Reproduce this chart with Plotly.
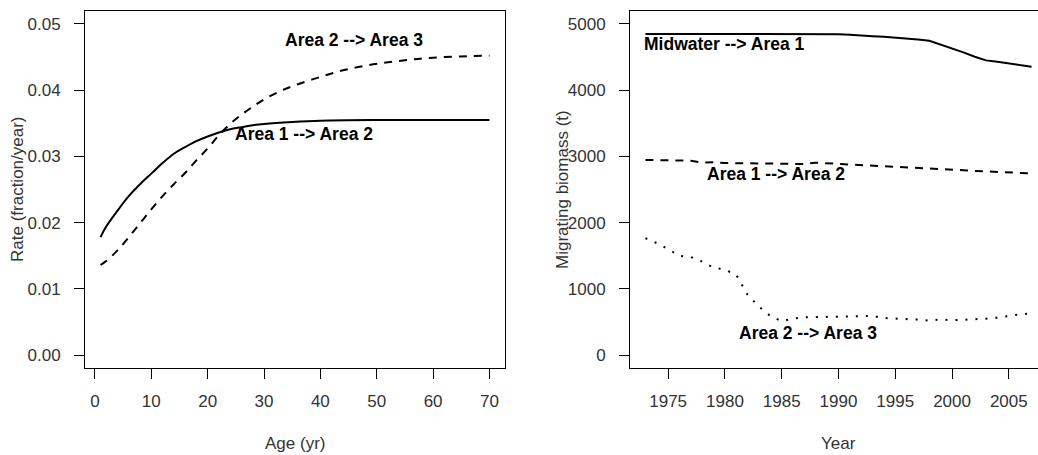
import plotly.graph_objects as go

# ---- Left panel: migration rate by age ----
age_a1a2 = [1, 2, 4, 6, 8, 10, 12, 14, 16, 18, 20, 22, 24, 26, 28, 30, 35, 40, 50, 60, 70]
rate_a1a2 = [0.0178, 0.0194, 0.0218, 0.0240, 0.0258, 0.0274, 0.0290, 0.0304, 0.0314,
             0.0323, 0.0330, 0.0336, 0.0341, 0.0344, 0.0347, 0.0349, 0.0352, 0.0354,
             0.0355, 0.0355, 0.0355]

age_a2a3 = [1, 2, 4, 6, 8, 10, 12, 14, 16, 18, 20, 22, 24, 26, 28, 30, 33, 36, 40, 44,
            48, 52, 56, 60, 65, 70]
rate_a2a3 = [0.0136, 0.0142, 0.0158, 0.0178, 0.0199, 0.0220, 0.0240, 0.0258, 0.0275,
             0.0294, 0.0312, 0.0332, 0.0349, 0.0363, 0.0375, 0.0386, 0.0399, 0.0409,
             0.0420, 0.0430, 0.0437, 0.0442, 0.0446, 0.0449, 0.0451, 0.0452]

# ---- Right panel: migrating biomass by year ----
years = list(range(1973, 2008))
bio_mid_a1 = [4850, 4850, 4850, 4850, 4850, 4850, 4850, 4850, 4850, 4850, 4850, 4850,
              4850, 4850, 4850, 4850, 4850, 4845, 4835, 4830, 4815, 4805, 4795, 4780,
              4765, 4745, 4690, 4630, 4570, 4505, 4450, 4430, 4405, 4370, 4355]
bio_a1_a2 = [2946, 2945, 2942, 2938, 2935, 2905, 2910, 2900, 2898, 2895, 2892, 2885,
             2883, 2880, 2885, 2905, 2895, 2880, 2870, 2865, 2858, 2850, 2842, 2835,
             2825, 2812, 2805, 2798, 2792, 2780, 2770, 2762, 2755, 2750, 2745]
bio_a2_a3 = [1765, 1690, 1600, 1500, 1480, 1410, 1320, 1290, 1210, 910, 730, 590,
             510, 550, 570, 575, 580, 580, 585, 590, 590, 560, 555, 545, 535, 520,
             540, 525, 530, 540, 550, 565, 595, 615, 630]

FONT = "Liberation Sans, Arial, sans-serif"
W, H = 1038, 455

def px_x(p):
    return p / W

def px_y(p):
    return 1 - p / H

DASH = "8px,7px"
DOT = "2px,8px"

fig = go.Figure()

fig.add_trace(go.Scatter(x=age_a1a2, y=rate_a1a2, mode="lines", line_shape="spline",
                         line=dict(color="black", width=2), xaxis="x", yaxis="y"))
fig.add_trace(go.Scatter(x=age_a2a3, y=rate_a2a3, mode="lines", line_shape="spline",
                         line=dict(color="black", width=2, dash=DASH), xaxis="x", yaxis="y"))

fig.add_trace(go.Scatter(x=years, y=bio_mid_a1, mode="lines",
                         line=dict(color="black", width=2), xaxis="x2", yaxis="y2"))
fig.add_trace(go.Scatter(x=years, y=bio_a1_a2, mode="lines",
                         line=dict(color="black", width=2, dash=DASH), xaxis="x2", yaxis="y2"))
fig.add_trace(go.Scatter(x=years, y=bio_a2_a3, mode="lines",
                         line=dict(color="black", width=2, dash=DOT), xaxis="x2", yaxis="y2"))

tickfont = dict(family=FONT, size=17, color="#333")
ydom = [px_y(368.3), px_y(10.7)]

common_axis = dict(showgrid=False, zeroline=False, showline=True, linecolor="black",
                   linewidth=1, ticks="outside", ticklen=10, tickcolor="black",
                   tickwidth=1, tickfont=tickfont)

fig.update_layout(
    width=W, height=H, margin=dict(l=0, r=0, t=0, b=0),
    paper_bgcolor="white", plot_bgcolor="white", showlegend=False,
    xaxis=dict(domain=[px_x(85), px_x(505)], range=[-1.76, 72.76], tickvals=list(range(0, 71, 10)),
               mirror=True, anchor="y", ticklabelstandoff=7, **common_axis),
    yaxis=dict(domain=ydom, range=[-0.002, 0.052], tickvals=[0, 0.01, 0.02, 0.03, 0.04, 0.05],
               tickformat=".2f", mirror=True, anchor="x", ticklabelstandoff=10, **common_axis),
    xaxis2=dict(domain=[px_x(630), 1.0], range=[1971.64, 2007.57],
                tickvals=list(range(1975, 2006, 5)), mirror=True, anchor="y2",
                ticklabelstandoff=7, **common_axis),
    yaxis2=dict(domain=ydom, range=[-200, 5200], tickvals=[0, 1000, 2000, 3000, 4000, 5000],
                tickformat="d", mirror=False, anchor="x2", ticklabelstandoff=10, **common_axis),
)

labfont = dict(family=FONT, size=17.5, color="black")
curve_labels = [
    ("x", "y", 46.0, 0.0475, "Area 2 --> Area 3"),
    ("x", "y", 37.1, 0.03335, "Area 1 --> Area 2"),
    ("x2", "y2", 1979.94, 4695, "Midwater --> Area 1"),
    ("x2", "y2", 1984.5, 2727, "Area 1 --> Area 2"),
    ("x2", "y2", 1987.3, 332, "Area 2 --> Area 3"),
]
for xr, yr, xv, yv, txt in curve_labels:
    fig.add_annotation(x=xv, y=yv, xref=xr, yref=yr, text="<b>%s</b>" % txt, showarrow=False,
                       xanchor="center", yanchor="middle", font=labfont)

titlefont = dict(family=FONT, size=17, color="#333")
axis_titles = [
    (px_x(295), px_y(443), 0, "Age (yr)"),
    (px_x(838.5), px_y(443), 0, "Year"),
    (px_x(17.5), px_y(189.5), -90, "Rate (fraction/year)"),
    (px_x(562.5), px_y(189.5), -90, "Migrating biomass (t)"),
]
for xv, yv, ang, txt in axis_titles:
    fig.add_annotation(x=xv, y=yv, xref="paper", yref="paper", text=txt, showarrow=False,
                       xanchor="center", yanchor="middle", textangle=ang, font=titlefont)

fig.write_html("out.html")
